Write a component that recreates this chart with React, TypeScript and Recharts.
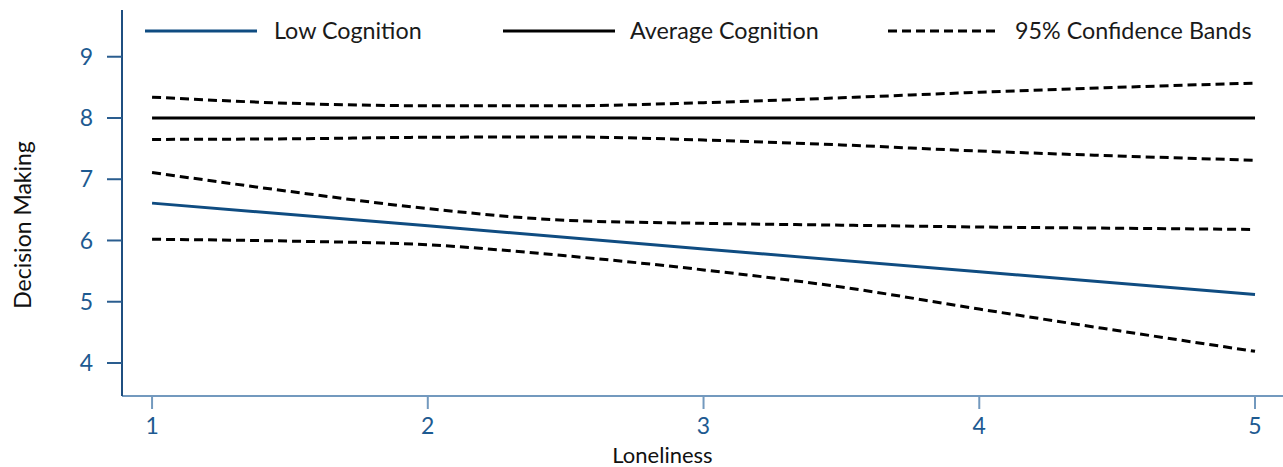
import React from "react";
import { LineChart, Line, XAxis, YAxis, Legend } from "recharts";

const loneliness = [1, 1.5, 2, 2.5, 3, 3.5, 4, 4.5, 5];
const lowCognition = [6.61, null, 6.24, null, 5.86, null, 5.49, null, 5.12];
const averageCognition = [8.0, null, 8.0, null, 8.0, null, 8.0, null, 8.0];
const avgUpper = [8.34, 8.24, 8.2, 8.2, 8.25, 8.33, 8.42, 8.5, 8.57];
const avgLower = [7.65, 7.66, 7.685, 7.69, 7.64, 7.56, 7.46, 7.38, 7.31];
const lowUpper = [7.11, 6.8, 6.52, 6.33, 6.28, 6.25, 6.22, 6.2, 6.18];
const lowLower = [6.02, 5.99, 5.93, 5.75, 5.52, 5.24, 4.88, 4.53, 4.19];

const xTicks = [1, 2, 3, 4, 5];
const yTicks = [4, 5, 6, 7, 8, 9];
const legendLabels = ["Low Cognition", "Average Cognition", "95% Confidence Bands"];

const BLUE = "#0f4c81";
const TICK_BLUE = "#1d5a91";
const FONT = "Lato, 'Noto Sans', sans-serif";

const data = loneliness.map((x, i) => ({
  x,
  low: lowCognition[i],
  avg: averageCognition[i],
  avgUp: avgUpper[i],
  avgLo: avgLower[i],
  lowUp: lowUpper[i],
  lowLo: lowLower[i],
}));

const legendStyles = [
  { x1: 145, x2: 257, tx: 274, stroke: BLUE, dash: undefined as string | undefined },
  { x1: 503, x2: 615, tx: 630, stroke: "#000", dash: undefined as string | undefined },
  { x1: 888, x2: 1000, tx: 1015, stroke: "#000", dash: "9 5" },
];

const LegendContent = () => (
  <svg width={1283} height={60} style={{ display: "block" }}>
    {legendLabels.map((label, i) => {
      const s = legendStyles[i];
      return (
        <g key={label}>
          <line x1={s.x1} x2={s.x2} y1={31} y2={31} stroke={s.stroke} strokeWidth={3} strokeDasharray={s.dash} />
          <text x={s.tx} y={39} fontSize={23.3} fill="#1a1a1a" fontFamily={FONT}>
            {label}
          </text>
        </g>
      );
    })}
  </svg>
);

export default function App() {
  return (
    <div style={{ position: "absolute", left: 0, top: 0, width: 1283, height: 467, background: "#fff" }}>
      <LineChart
        width={1283}
        height={467}
        data={data}
        margin={{ top: 10, right: 0, bottom: 0, left: 0 }}
        style={{ fontFamily: FONT }}
      >
        <XAxis
          dataKey="x"
          type="number"
          domain={[0.891, 5.1015]}
          ticks={xTicks}
          allowDataOverflow
          height={71}
          tickSize={13}
          tickMargin={9}
          axisLine={{ stroke: "#7399be", strokeWidth: 2 }}
          tickLine={{ stroke: "#7399be", strokeWidth: 2 }}
          tick={{ fill: TICK_BLUE, fontSize: 23, fontFamily: FONT }}
          label={{ value: "Loneliness", position: "insideBottom", offset: 4, dx: -40, fill: "#111", fontSize: 22, fontFamily: FONT }}
        />
        <YAxis
          type="number"
          domain={[3.461, 9.763]}
          ticks={yTicks}
          allowDataOverflow
          width={122}
          tickSize={15}
          tickMargin={14}
          axisLine={{ stroke: "#1f4f80", strokeWidth: 2 }}
          tickLine={{ stroke: "#2a5d8f", strokeWidth: 2 }}
          tick={{ fill: TICK_BLUE, fontSize: 23, fontFamily: FONT }}
          label={{ value: "Decision Making", angle: -90, position: "center", dx: -38, dy: 22, fill: "#111", fontSize: 23, fontFamily: FONT }}
        />
        <Legend
          verticalAlign="middle"
          layout="horizontal"
          wrapperStyle={{ position: "absolute", top: 0, left: 0, width: 1283, height: 60 }}
          content={<LegendContent />}
        />
        <Line dataKey="avgUp" type="monotone" stroke="#000" strokeWidth={3} strokeDasharray="9 5" dot={false} isAnimationActive={false} />
        <Line dataKey="avgLo" type="monotone" stroke="#000" strokeWidth={3} strokeDasharray="9 5" dot={false} isAnimationActive={false} />
        <Line dataKey="lowUp" type="monotone" stroke="#000" strokeWidth={3} strokeDasharray="9 5" dot={false} isAnimationActive={false} />
        <Line dataKey="lowLo" type="monotone" stroke="#000" strokeWidth={3} strokeDasharray="9 5" dot={false} isAnimationActive={false} />
        <Line dataKey="avg" type="linear" connectNulls stroke="#000" strokeWidth={3} dot={false} isAnimationActive={false} />
        <Line dataKey="low" type="linear" connectNulls stroke={BLUE} strokeWidth={3} dot={false} isAnimationActive={false} />
      </LineChart>
    </div>
  );
}
